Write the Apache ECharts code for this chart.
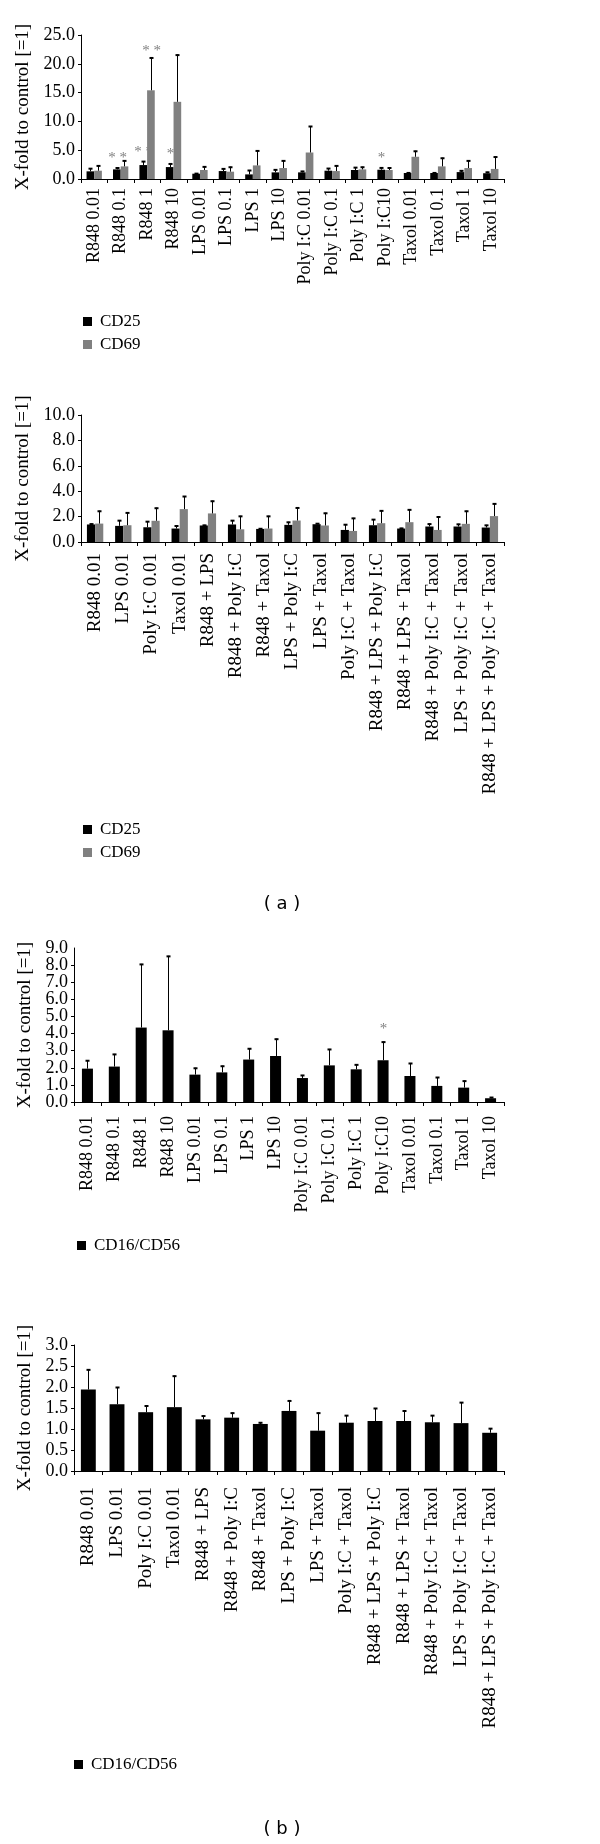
<!DOCTYPE html>
<html><head><meta charset="utf-8">
<script src="https://cdn.jsdelivr.net/npm/echarts@6/dist/echarts.min.js"></script>
<style>html,body{margin:0;padding:0;background:#fff;}#c{width:600px;height:1844px;}</style>
</head><body><div id="c"></div>
<script>
// ---------- data ----------
const catsSingle = ['R848 0.01','R848 0.1','R848 1','R848 10','LPS 0.01','LPS 0.1','LPS 1','LPS 10','Poly I:C 0.01','Poly I:C 0.1','Poly I:C 1','Poly I:C10','Taxol 0.01','Taxol 0.1','Taxol 1','Taxol 10'];
const catsCombo = ['R848 0.01','LPS 0.01','Poly I:C 0.01','Taxol 0.01','R848 + LPS','R848 + Poly I:C','R848 + Taxol','LPS + Poly I:C','LPS + Taxol','Poly I:C + Taxol','R848 + LPS + Poly I:C','R848 + LPS + Taxol','R848 + Poly I:C + Taxol','LPS + Poly I:C + Taxol','R848 + LPS + Poly I:C + Taxol'];

// (a) top: single stimuli, CD25 / CD69
const a1CD25    = [1.33,1.67,2.42,2.07,0.92,1.38,0.80,1.15,1.15,1.44,1.56,1.61,1.04,1.04,1.20,1.00];
const a1CD25Err = [0.55,0.33,0.69,0.63,0.10,0.46,0.76,0.52,0.25,0.46,0.50,0.40,0.10,0.10,0.30,0.25];
const a1CD25Sig = ['','* *','* *','*','','','','','','','','*','','','',''];
const a1CD69    = [1.44,2.19,15.4,13.4,1.56,1.27,2.36,1.90,4.60,1.38,1.67,1.56,3.86,2.19,1.90,1.75];
const a1CD69Err = [0.92,1.04,5.70,8.20,0.63,0.86,2.60,1.33,4.60,0.98,0.46,0.44,1.04,1.50,1.33,2.15];
const a1CD69Sig = ['','','* *','','','','','','','','','','','','',''];

// (a) bottom: combinations, CD25 / CD69
const a2CD25    = [1.38,1.27,1.16,1.06,1.30,1.38,1.03,1.35,1.40,0.95,1.32,1.06,1.22,1.22,1.14];
const a2CD25Err = [0.07,0.45,0.48,0.24,0.05,0.34,0.05,0.24,0.08,0.45,0.48,0.05,0.23,0.21,0.21];
const a2CD69    = [1.45,1.32,1.67,2.59,2.25,1.00,1.06,1.69,1.30,0.87,1.48,1.56,0.95,1.43,2.04];
const a2CD69Err = [1.01,1.01,1.03,1.03,1.00,1.06,1.00,1.03,1.00,1.03,1.01,1.01,1.06,1.03,1.00];

// (b) top: single stimuli, CD16/CD56
const b1Val = [1.95,2.07,4.35,4.19,1.60,1.73,2.48,2.69,1.40,2.14,1.91,2.44,1.52,0.94,0.84,0.22];
const b1Err = [0.49,0.74,3.72,4.35,0.40,0.39,0.66,1.01,0.18,0.96,0.29,1.09,0.76,0.52,0.41,0.07];
const b1Sig = ['','','','','','','','','','','','*','','','',''];

// (b) bottom: combinations, CD16/CD56
const b2Val = [1.94,1.59,1.40,1.52,1.23,1.27,1.12,1.43,0.96,1.15,1.19,1.19,1.16,1.14,0.91];
const b2Err = [0.48,0.41,0.16,0.75,0.09,0.12,0.04,0.25,0.43,0.18,0.31,0.25,0.17,0.50,0.11];

// ---------- styling ----------
const SERIF = 'Liberation Serif';
const BLACK = '#000000', GREY = '#808080';
const yName = 'X-fold to control [=1]';

function errSeries(vals, errs, sigs, gridIdx, offFrac, sigOff) {
  return {
    type: 'custom', name: 'err' + gridIdx + offFrac, xAxisIndex: gridIdx, yAxisIndex: gridIdx, z: 5,
    encode: { x: 0, y: 1 },
    data: vals.map((v, i) => [i, v, errs[i]]),
    renderItem: function (params, api) {
      const i = api.value(0), v = api.value(1), e = api.value(2);
      const band = api.size([1, 0])[0];
      const base = api.coord([i, v]);
      const top = api.coord([i, v + e]);
      const x = Math.round(base[0] + band * offFrac) + 0.5;
      const children = [
        { type: 'line', shape: { x1: x, y1: base[1], x2: x, y2: top[1] }, style: { stroke: '#000', lineWidth: 1 } },
        { type: 'line', shape: { x1: x - 2, y1: top[1] + 0.5, x2: x + 2, y2: top[1] + 0.5 }, style: { stroke: '#000', lineWidth: 2 } }
      ];
      const s = sigs ? sigs[params.dataIndex] : '';
      if (s) {
        children.push({ type: 'text', x: x, y: top[1] - sigOff,
          style: { text: s, fill: GREY, fontFamily: SERIF, fontSize: 15, align: 'center', verticalAlign: 'middle' } });
      }
      return { type: 'group', children: children };
    }
  };
}

function yAxis(gridIdx, max, interval, gap) {
  return {
    type: 'value', gridIndex: gridIdx, position: 'left', min: 0, max: max, interval: interval,
    name: yName, nameLocation: 'middle', nameGap: gap,
    nameTextStyle: { fontFamily: SERIF, fontSize: 19, color: '#000' },
    axisLine: { show: true, lineStyle: { color: '#000', width: 1 } },
    axisTick: { show: true, length: 3, lineStyle: { color: '#000' } },
    splitLine: { show: false },
    axisLabel: { color: '#000', margin: 6, fontFamily: SERIF, fontSize: 18,
      showMinLabel: true, showMaxLabel: true, hideOverlap: false,
      formatter: v => v.toFixed(1) }
  };
}
function xAxis(gridIdx, cats, margin, fs) {
  return {
    type: 'category', gridIndex: gridIdx, data: cats,
    axisLine: { show: true, lineStyle: { color: '#000', width: 1 } },
    axisTick: { show: true, length: 4, lineStyle: { color: '#000' } },
    axisLabel: { interval: 0, rotate: 90, fontFamily: SERIF, fontSize: fs, color: '#000', margin: margin }
  };
}
function legend(names, left, top) {
  return {
    data: names, orient: 'vertical', left: left, top: top, padding: 0, itemGap: 6,
    icon: 'rect', itemWidth: 9, itemHeight: 9, selectedMode: false,
    textStyle: { fontFamily: SERIF, fontSize: 17, lineHeight: 17, color: '#000', padding: [0, 0, 0, 3] }
  };
}

// panel (b) top has tightly packed ticks: even labels on the main axis, odd labels on a twin axis
const yB1 = yAxis(2, 9, 1, 31);
yB1.axisLabel.formatter = v => (Math.round(v) % 2 === 0 ? v.toFixed(1) : '');
yB1.axisLabel.showMaxLabel = false;
const yB1odd = {
  type: 'value', gridIndex: 2, position: 'left', offset: 0, min: 0, max: 9, interval: 1,
  axisLine: { show: false }, axisTick: { show: false }, splitLine: { show: false },
  axisLabel: { color: '#000', margin: 6, fontFamily: SERIF, fontSize: 18,
    showMinLabel: false, showMaxLabel: true, hideOverlap: false,
    formatter: v => (Math.round(v) % 2 === 1 ? v.toFixed(1) : '') }
};

const option = {
  animation: false,
  backgroundColor: '#fff',
  grid: [
    { left: 81, top: 35, width: 423, height: 144 },
    { left: 81, top: 415, width: 423, height: 127 },
    { left: 74, top: 948, width: 430, height: 154 },
    { left: 74, top: 1345, width: 430, height: 126 }
  ],
  xAxis: [xAxis(0, catsSingle, 9, 18), xAxis(1, catsCombo, 11, 19), xAxis(2, catsSingle, 14, 18), xAxis(3, catsCombo, 16, 19)],
  yAxis: [yAxis(0, 25, 5, 38), yAxis(1, 10, 2, 38), yB1, yAxis(3, 3, 0.5, 31), yB1odd],
  legend: [
    legend(['CD25', 'CD69'], 83, 313),
    legend(['CD25', 'CD69'], 83, 821),
    legend(['CD16/CD56'], 77, 1237),
    legend(['CD16/CD56'], 74, 1756)
  ],
  graphic: [
    { type: 'text', x: 282, y: 904, style: { text: '( a )', fill: '#000', fontFamily: 'DejaVu Sans', fontSize: 18, align: 'center', verticalAlign: 'middle' } },
    { type: 'text', x: 282, y: 1829, style: { text: '( b )', fill: '#000', fontFamily: 'DejaVu Sans', fontSize: 18, align: 'center', verticalAlign: 'middle' } }
  ],
  series: [
    { type: 'bar', name: 'CD25', xAxisIndex: 0, yAxisIndex: 0, data: a1CD25, barWidth: '29%', barGap: '0%', itemStyle: { color: BLACK } },
    { type: 'bar', name: 'CD69', xAxisIndex: 0, yAxisIndex: 0, data: a1CD69, barWidth: '29%', barGap: '0%', itemStyle: { color: GREY } },
    errSeries(a1CD25, a1CD25Err, a1CD25Sig, 0, -0.145, 9),
    errSeries(a1CD69, a1CD69Err, a1CD69Sig, 0, 0.145, 6),

    { type: 'bar', name: 'CD25', xAxisIndex: 1, yAxisIndex: 1, data: a2CD25, barWidth: '29%', barGap: '0%', itemStyle: { color: BLACK } },
    { type: 'bar', name: 'CD69', xAxisIndex: 1, yAxisIndex: 1, data: a2CD69, barWidth: '29%', barGap: '0%', itemStyle: { color: GREY } },
    errSeries(a2CD25, a2CD25Err, null, 1, -0.145, 0),
    errSeries(a2CD69, a2CD69Err, null, 1, 0.145, 0),

    { type: 'bar', name: 'CD16/CD56', xAxisIndex: 2, yAxisIndex: 2, data: b1Val, barWidth: '41%', itemStyle: { color: BLACK } },
    errSeries(b1Val, b1Err, b1Sig, 2, 0, 13),

    { type: 'bar', name: 'CD16/CD56', xAxisIndex: 3, yAxisIndex: 3, data: b2Val, barWidth: '52%', itemStyle: { color: BLACK } },
    errSeries(b2Val, b2Err, null, 3, 0, 0)
  ]
};
const chart = echarts.init(document.getElementById('c'), null, { renderer: 'canvas', width: 600, height: 1844 });
chart.setOption(option);
</script></body></html>
